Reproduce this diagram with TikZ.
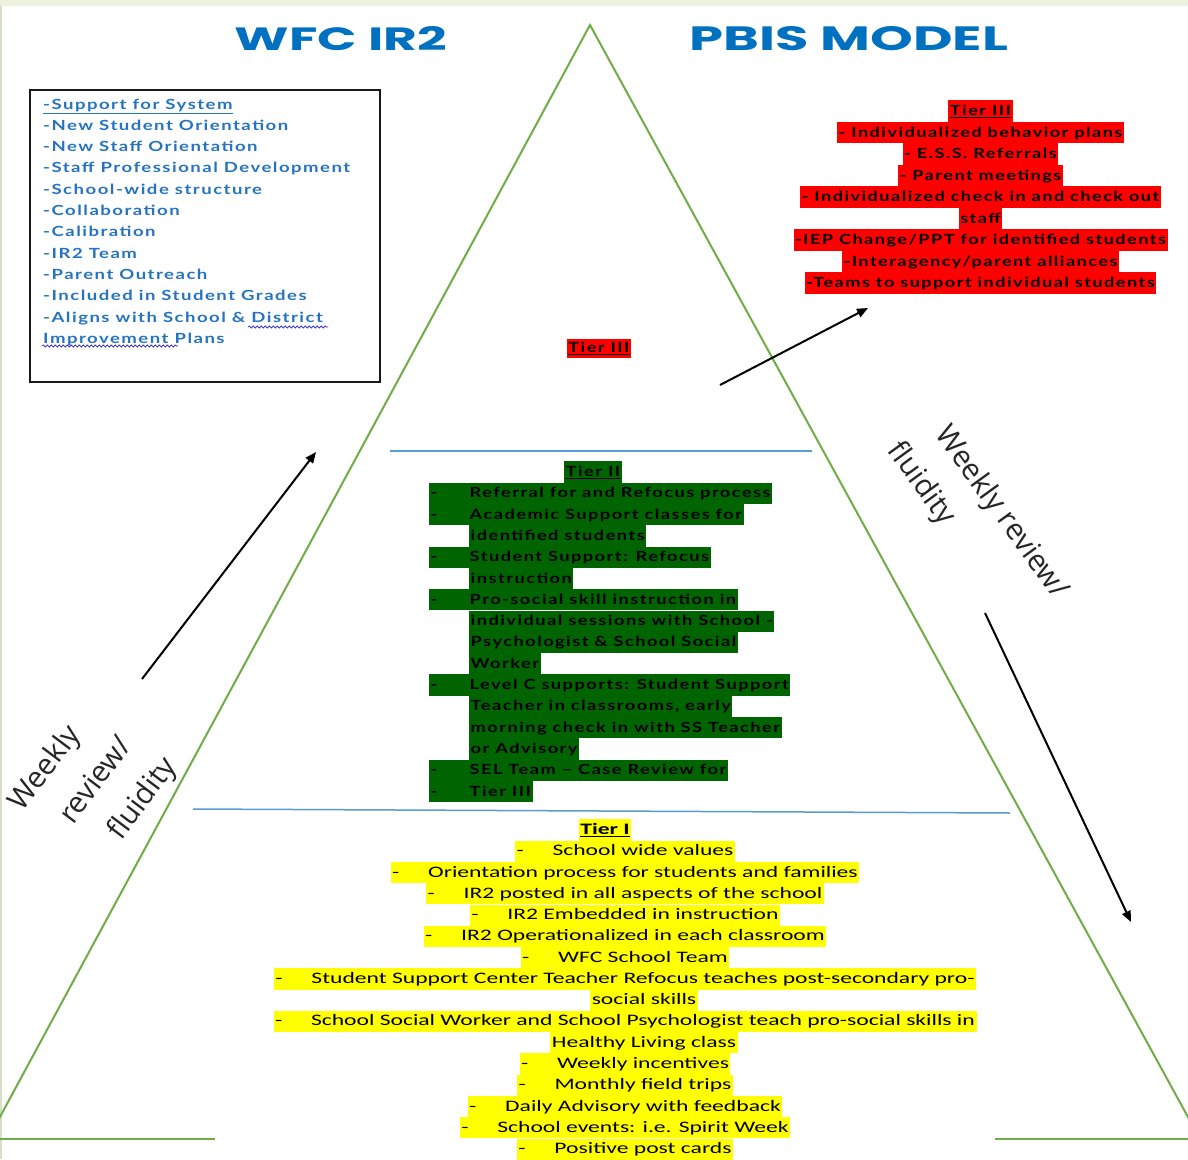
\documentclass[tikz,border=0pt]{standalone}
\usepackage{fontspec}
\usepackage{graphicx}
\usetikzlibrary{arrows.meta,decorations.pathmorphing}
\setmainfont{Carlito}
\newfontfamily\tIfont{Carlito}
\newfontfamily\lfont[LetterSpace=8]{Lato}
\newfontfamily\rotfont{Open Sans}
\newfontfamily\ttlfont{Poppins}
\definecolor{hlyellow}{RGB}{255,255,0}
\definecolor{hlred}{RGB}{255,0,0}
\definecolor{hlgreen}{RGB}{0,100,0}
\definecolor{titleblue}{RGB}{0,112,192}
\definecolor{boxblue}{RGB}{38,116,192}
\definecolor{trigreen}{RGB}{112,173,71}
\definecolor{divblue}{RGB}{91,155,213}
\definecolor{topband}{RGB}{236,242,222}
\definecolor{edgeline}{RGB}{214,224,200}
\definecolor{wavy}{RGB}{70,60,200}
\newlength\natw
\newcommand\mycalib[3]{\settowidth\natw{#3}\pgfmathsetmacro#1{#2/\natw}}
\newcommand\txBox[1]{\scalebox{\sBoxF}[1]{\lfont\bfseries\fontsize{14}{17}\selectfont #1}}
\newcommand\txRed[1]{\scalebox{\sRedF}[1]{\lfont\bfseries\fontsize{14}{17}\selectfont #1}}
\newcommand\txGrn[1]{\scalebox{\sGrnF}[1]{\lfont\bfseries\fontsize{14}{17}\selectfont #1}}
\newcommand\txYel[1]{\scalebox{\sYelF}[1]{\tIfont\fontsize{16}{19}\selectfont #1}}
\newcommand\dashY{\makebox[36pt][l]{\txYel{-}}}
\newcommand\dashG{\makebox[39pt][l]{\txGrn{-}}}
\AtBeginDocument{%
\mycalib\sBoxF{307}{\lfont\bfseries\fontsize{14}{17}\selectfont -Staff Professional Development}%
\mycalib\sRedF{371}{\lfont\bfseries\fontsize{14}{17}\selectfont -IEP Change/PPT for identified students}%
\mycalib\sGrnF{302}{\lfont\bfseries\fontsize{14}{17}\selectfont individual sessions with School -}%
\mycalib\sYelF{664}{\tIfont\fontsize{16}{19}\selectfont School Social Worker and School Psychologist teach pro-social skills in}%
}
\tikzset{
  hl/.style={inner xsep=1.5pt, inner ysep=0pt, minimum height=21.2pt, text height=12pt, text depth=3pt},
  yl/.style={hl, fill=hlyellow},
  rd/.style={hl, fill=hlred, minimum height=21.4pt},
  gn/.style={hl, fill=hlgreen, anchor=west},
  bx/.style={inner sep=0pt, anchor=base west, text=boxblue},
  arr/.style={draw=black, line width=2pt, -{Triangle[length=11pt,width=9pt]}},
  tri/.style={draw=trigreen, line width=2pt},
  divline/.style={draw=divblue, line width=1.5pt},
  rot/.style={font=\rotfont\fontsize{29.5}{48}\selectfont, inner sep=0pt, text=black!85, align=left},
  squiggle/.style={draw=wavy, line width=0.8pt, decorate, decoration={snake, amplitude=1.1pt, segment length=4pt}},
}
\begin{document}
\begin{tikzpicture}[x=1pt,y=-1pt]
\useasboundingbox (0,0) rectangle (1188,1159);
\fill[white] (0,0) rectangle (1188,1159);
\fill[topband] (0,0) rectangle (1188,6);
\draw[edgeline, line width=1.5pt] (0.75,6) -- (0.75,1159);

% triangle
\coordinate (apex) at (590,25);
\coordinate (bl) at (-12,1139);
\coordinate (br) at (1200,1139);
\begin{scope}
\clip (0,0) rectangle (1188,1159);
\draw[tri] (bl) -- (apex) -- (br);
\end{scope}
\coordinate (bl1) at (0,1139);
\coordinate (bl2) at (215,1139);
\coordinate (br1) at (995,1139);
\coordinate (br2) at (1188,1139);
\draw[tri] (bl1) -- (bl2);
\draw[tri] (br1) -- (br2);

% dividers
\coordinate (d1a) at (390,451);
\coordinate (d1b) at (812,451);
\coordinate (d2a) at (193,809);
\coordinate (d2b) at (1010,813);
\draw[divline] (d1a) -- (d1b);
\draw[divline] (d2a) -- (d2b);

% titles
\node[text=titleblue, inner sep=0pt] (ttlL) at (341,39) {\resizebox{212pt}{24pt}{\ttlfont\bfseries WFC IR2}};
\node[text=titleblue, inner sep=0pt] (ttlR) at (849,39) {\resizebox{318pt}{24pt}{\ttlfont\bfseries PBIS MODEL}};

% left box
\node[draw=black!90, line width=2pt, minimum width=350pt, minimum height=292pt, inner sep=0pt] (sysbox) at (204.5,235.5) {};
\node[bx] (b0) at (43,109) {\txBox{\underline{-Support for System}}};
\node[bx] (b1) at (43,130.3) {\txBox{-New Student Orientation}};
\node[bx] (b2) at (43,151.6) {\txBox{-New Staff Orientation}};
\node[bx] (b3) at (43,172.9) {\txBox{-Staff Professional Development}};
\node[bx] (b4) at (43,194.2) {\txBox{-School-wide structure}};
\node[bx] (b5) at (43,215.5) {\txBox{-Collaboration}};
\node[bx] (b6) at (43,236.8) {\txBox{-Calibration}};
\node[bx] (b7) at (43,258.1) {\txBox{-IR2 Team}};
\node[bx] (b8) at (43,279.4) {\txBox{-Parent Outreach}};
\node[bx] (b9) at (43,300.7) {\txBox{-Included in Student Grades}};
\node[bx] (b10) at (43,322) {\txBox{-Aligns with School \& District}};
\node[bx] (b11) at (43,343.3) {\txBox{Improvement Plans}};
\coordinate (w1a) at (248,327);
\coordinate (w1b) at (328,327);
\coordinate (w2a) at (42,346);
\coordinate (w2b) at (178,346);
\draw[squiggle] (w1a) -- (w1b);
\draw[squiggle] (w2a) -- (w2b);

% Tier III (red)
\node[rd] (r0) at (980.5,111) {\txRed{\underline{Tier III}}};
\node[rd] (r1) at (980.5,132.5) {\txRed{- Individualized behavior plans}};
\node[rd] (r2) at (980.5,154) {\txRed{- E.S.S. Referrals}};
\node[rd] (r3) at (980.5,175.5) {\txRed{- Parent meetings}};
\node[rd] (r4) at (980.5,197) {\txRed{- Individualized check in and check out}};
\node[rd] (r5) at (980.5,218.5) {\txRed{staff}};
\node[rd] (r6) at (980.5,240) {\txRed{-IEP Change/PPT for identified students}};
\node[rd] (r7) at (980.5,261.5) {\txRed{-Interagency/parent alliances}};
\node[rd] (r8) at (980.5,283) {\txRed{-Teams to support individual students}};
\node[rd, minimum height=19pt] (midT3) at (599,348) {\txRed{\underline{Tier III}}};

% Tier II (green)
\node[hl, fill=hlgreen] (g0) at (593,472) {\txGrn{\underline{Tier II}}};
\node[gn] (g1) at (429,493.3) {\dashG\txGrn{Referral for and Refocus process}};
\node[gn] (g2) at (429,514.6) {\dashG\txGrn{Academic Support classes for}};
\node[gn] (g3) at (469,535.9) {\txGrn{identified students}};
\node[gn] (g4) at (429,557.2) {\dashG\txGrn{Student Support: Refocus}};
\node[gn] (g5) at (469,578.5) {\txGrn{instruction}};
\node[gn] (g6) at (429,599.8) {\dashG\txGrn{Pro-social skill instruction in}};
\node[gn] (g7) at (469,621.1) {\txGrn{individual sessions with School -}};
\node[gn] (g8) at (469,642.4) {\txGrn{Psychologist \& School Social}};
\node[gn] (g9) at (469,663.7) {\txGrn{Worker}};
\node[gn] (g10) at (429,685) {\dashG\txGrn{Level C supports: Student Support}};
\node[gn] (g11) at (469,706.3) {\txGrn{Teacher in classrooms, early}};
\node[gn] (g12) at (469,727.6) {\txGrn{morning check in with SS Teacher}};
\node[gn] (g13) at (469,748.9) {\txGrn{or Advisory}};
\node[gn] (g14) at (429,770.2) {\dashG\txGrn{SEL Team – Case Review for}};
\node[gn] (g15) at (429,791.5) {\dashG\txGrn{Tier III}};

% Tier I (yellow)
\node[yl] (y0) at (605,830) {\txYel{\bfseries\underline{Tier I}}};
\node[yl] (y1) at (625,851.3) {\dashY\txYel{School wide values}};
\node[yl] (y2) at (625,872.5) {\dashY\txYel{Orientation process for students and families}};
\node[yl] (y3) at (625,893.8) {\dashY\txYel{IR2 posted in all aspects of the school}};
\node[yl] (y4) at (625,915.1) {\dashY\txYel{IR2 Embedded in instruction}};
\node[yl] (y5) at (625,936.4) {\dashY\txYel{IR2 Operationalized in each classroom}};
\node[yl] (y6) at (625,957.6) {\dashY\txYel{WFC School Team}};
\node[yl] (y7) at (625,978.9) {\dashY\txYel{Student Support Center Teacher Refocus teaches post-secondary pro-}};
\node[yl] (y8) at (644,1000.2) {\txYel{social skills}};
\node[yl] (y9) at (625,1021.4) {\dashY\txYel{School Social Worker and School Psychologist teach pro-social skills in}};
\node[yl] (y10) at (644,1042.7) {\txYel{Healthy Living class}};
\node[yl] (y11) at (625,1064) {\dashY\txYel{Weekly incentives}};
\node[yl] (y12) at (625,1085.2) {\dashY\txYel{Monthly field trips}};
\node[yl] (y13) at (625,1106.5) {\dashY\txYel{Daily Advisory with feedback}};
\node[yl] (y14) at (625,1127.8) {\dashY\txYel{School events: i.e. Spirit Week}};
\node[yl] (y15) at (625,1149.1) {\dashY\txYel{Positive post cards}};

% rotated labels
\node[rot, rotate=53] (lweekly) at (94,785) {Weekly\\\hspace*{20pt}review/\\\hspace*{36pt}fluidity};
\node[rot, rotate=-54] (rweekly) at (977,521) {\hspace*{15pt}Weekly review/\\fluidity};

% arrows
\coordinate (a1s) at (142,679);
\coordinate (a1e) at (316,452);
\coordinate (a2s) at (720,385);
\coordinate (a2e) at (868,308);
\coordinate (a3s) at (985,613);
\coordinate (a3e) at (1131,922);
\draw[arr] (a1s) -- (a1e);
\draw[arr] (a2s) -- (a2e);
\draw[arr] (a3s) -- (a3e);
\end{tikzpicture}
\end{document}
